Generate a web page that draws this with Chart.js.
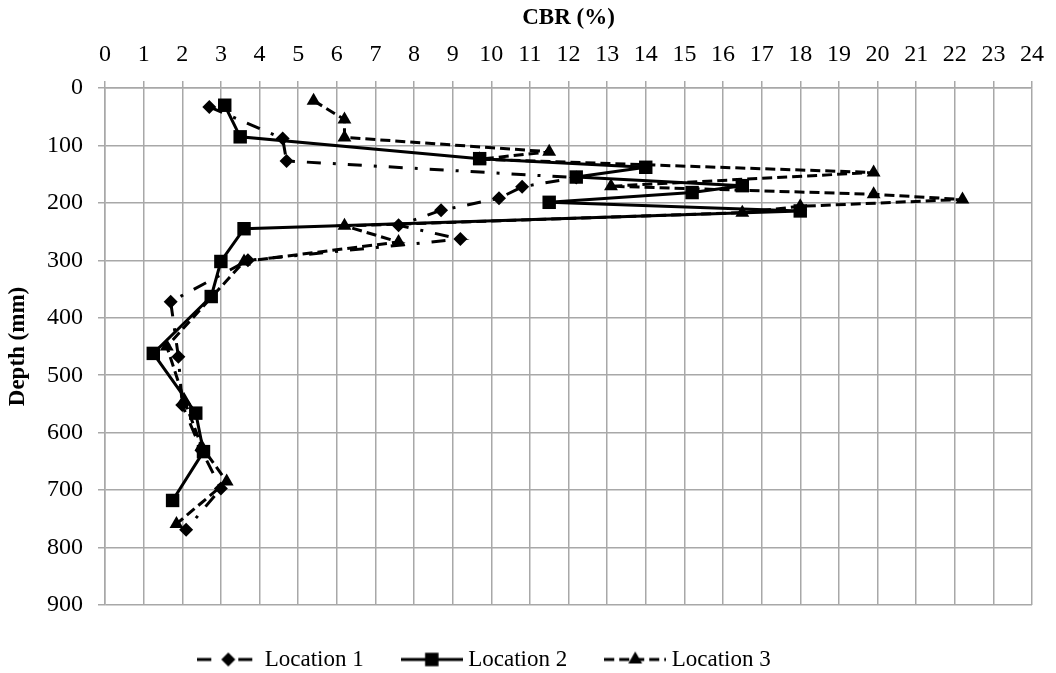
<!DOCTYPE html>
<html>
<head>
<meta charset="utf-8">
<title>CBR vs Depth</title>
<script src="https://cdn.jsdelivr.net/npm/chart.js@4"></script>
<style>
  html, body { margin: 0; padding: 0; background: #fff; }
  canvas { display: block; }
</style>
</head>
<body>
<canvas id="cbr-depth" width="1056" height="673"></canvas>
<script>
// CBR (%) against depth (mm) for the three test locations
const loc1Cbr   = [2.7, 4.6, 4.7, 12.2, 10.8, 10.2, 8.7, 7.6, 9.2, 3.7, 1.7, 1.9, 2.0, 2.5, 3.0, 2.1];
const loc1Depth = [33, 88, 127, 156, 172, 192, 213, 239, 263, 300, 372, 468, 552, 631, 697, 769];

const loc2Cbr   = [3.1, 3.5, 9.7, 14.0, 12.2, 16.5, 15.2, 11.5, 18.0, 3.6, 3.0, 2.75, 1.25, 2.35, 2.55, 1.75];
const loc2Depth = [30, 85, 123, 138, 155, 170, 182, 199, 214, 245, 302, 363, 462, 566, 633, 718];

const loc3Cbr   = [5.4, 6.2, 6.2, 11.5, 9.7, 19.9, 13.1, 19.9, 22.2, 18.0, 16.5, 6.2, 7.6, 3.6, 1.6, 2.05, 2.5, 3.15, 1.85];
const loc3Depth = [22, 55, 86, 111, 124, 147, 171, 185, 194, 206, 217, 240, 268, 302, 450, 543, 624, 685, 759];

const locationNames = ['Location 1', 'Location 2', 'Location 3'];

const FONT = "'Liberation Serif', 'Times New Roman', serif";
const GRID = '#a8a8a8';

const DASH_DOT = [14, 12, 3, 12];
const SHORT_DASH = [10, 5];

function toPoints(xs, ys) {
  return xs.map((x, i) => ({ x: x, y: ys[i] }));
}

// Small marker shapes used for the legend samples
function drawMarker(g, style, cx, cy, r) {
  g.beginPath();
  if (style === 'rectRot') {
    g.moveTo(cx - r, cy); g.lineTo(cx, cy - r); g.lineTo(cx + r, cy); g.lineTo(cx, cy + r);
  } else if (style === 'rect') {
    const h = r * Math.SQRT1_2;
    g.rect(cx - h, cy - h, 2 * h, 2 * h);
  } else {
    g.moveTo(cx, cy - r);
    g.lineTo(cx + r * Math.sin(2 * Math.PI / 3), cy + r / 2);
    g.lineTo(cx - r * Math.sin(2 * Math.PI / 3), cy + r / 2);
  }
  g.closePath();
  g.fill();
}

// Line + marker sample for each legend entry
function legendSample(dash, style, r) {
  const c = document.createElement('canvas');
  c.width = 62;
  c.height = 22;
  const g = c.getContext('2d');
  g.strokeStyle = '#000';
  g.fillStyle = '#000';
  g.lineWidth = 3;
  g.setLineDash(dash);
  g.beginPath();
  g.moveTo(0, 11);
  g.lineTo(62, 11);
  g.stroke();
  g.setLineDash([]);
  drawMarker(g, style, 31, 11, r);
  return c;
}

const samples = [
  legendSample(DASH_DOT, 'rectRot', 7),
  legendSample([], 'rect', 9.5),
  legendSample(SHORT_DASH, 'triangle', 8)
];

// nudge the legend block a little to the left of centre
const legendShift = {
  id: 'legendShift',
  afterLayout(chart) {
    chart.legend.right -= 62;
  }
};

const ctx = document.getElementById('cbr-depth').getContext('2d');
new Chart(ctx, {
  type: 'scatter',
  data: {
    datasets: [{
      label: locationNames[0],
      data: toPoints(loc1Cbr, loc1Depth),
      showLine: true,
      borderColor: '#000',
      backgroundColor: '#000',
      borderWidth: 3,
      borderDash: DASH_DOT,
      pointStyle: 'rectRot',
      pointRadius: 7,
      pointBorderWidth: 0,
      order: 1
    }, {
      label: locationNames[1],
      data: toPoints(loc2Cbr, loc2Depth),
      showLine: true,
      borderColor: '#000',
      backgroundColor: '#000',
      borderWidth: 3,
      pointStyle: 'rect',
      pointRadius: 9.5,
      pointBorderWidth: 0,
      order: 0
    }, {
      label: locationNames[2],
      data: toPoints(loc3Cbr, loc3Depth),
      showLine: true,
      borderColor: '#000',
      backgroundColor: '#000',
      borderWidth: 3,
      borderDash: SHORT_DASH,
      pointStyle: 'triangle',
      pointRadius: 8,
      pointBorderWidth: 0,
      order: 2
    }]
  },
  options: {
    responsive: false,
    animation: false,
    layout: { padding: { left: 0, right: 20, top: 0, bottom: -8 } },
    elements: { line: { tension: 0, borderCapStyle: 'butt' } },
    plugins: {
      tooltip: { enabled: false },
      legend: {
        position: 'bottom',
        labels: {
          usePointStyle: true,
          pointStyleWidth: 50,
          padding: 43,
          color: '#000',
          font: { family: FONT, size: 23 },
          generateLabels: chart => chart.data.datasets.map((ds, i) => ({
            text: ds.label,
            pointStyle: samples[i],
            datasetIndex: i,
            fontColor: '#000',
            lineWidth: 0,
            hidden: false
          }))
        }
      }
    },
    scales: {
      x: {
        type: 'linear',
        position: 'top',
        min: 0,
        max: 24,
        ticks: {
          stepSize: 1,
          autoSkip: false,
          maxRotation: 0,
          padding: 12,
          color: '#000',
          font: { family: FONT, size: 24 }
        },
        grid: { color: GRID, lineWidth: 1.5, tickLength: 7 },
        border: { color: GRID, width: 1.5 },
        title: {
          display: true,
          text: 'CBR (%)',
          color: '#000',
          padding: { top: 4, bottom: 0 },
          font: { family: FONT, size: 23, weight: 'bold' }
        },
        afterFit: scale => { scale.height = 88; }
      },
      y: {
        type: 'linear',
        reverse: true,
        min: 0,
        max: 900,
        ticks: {
          stepSize: 100,
          padding: 15,
          color: '#000',
          font: { family: FONT, size: 24 }
        },
        grid: { color: GRID, lineWidth: 1.5, tickLength: 7 },
        border: { color: GRID, width: 1.5 },
        title: {
          display: true,
          text: 'Depth (mm)',
          color: '#000',
          padding: { top: 4, bottom: 0 },
          font: { family: FONT, size: 23, weight: 'bold' }
        },
        afterFit: scale => { scale.width = 105; }
      }
    }
  },
  plugins: [legendShift]
});
</script>
</body>
</html>
